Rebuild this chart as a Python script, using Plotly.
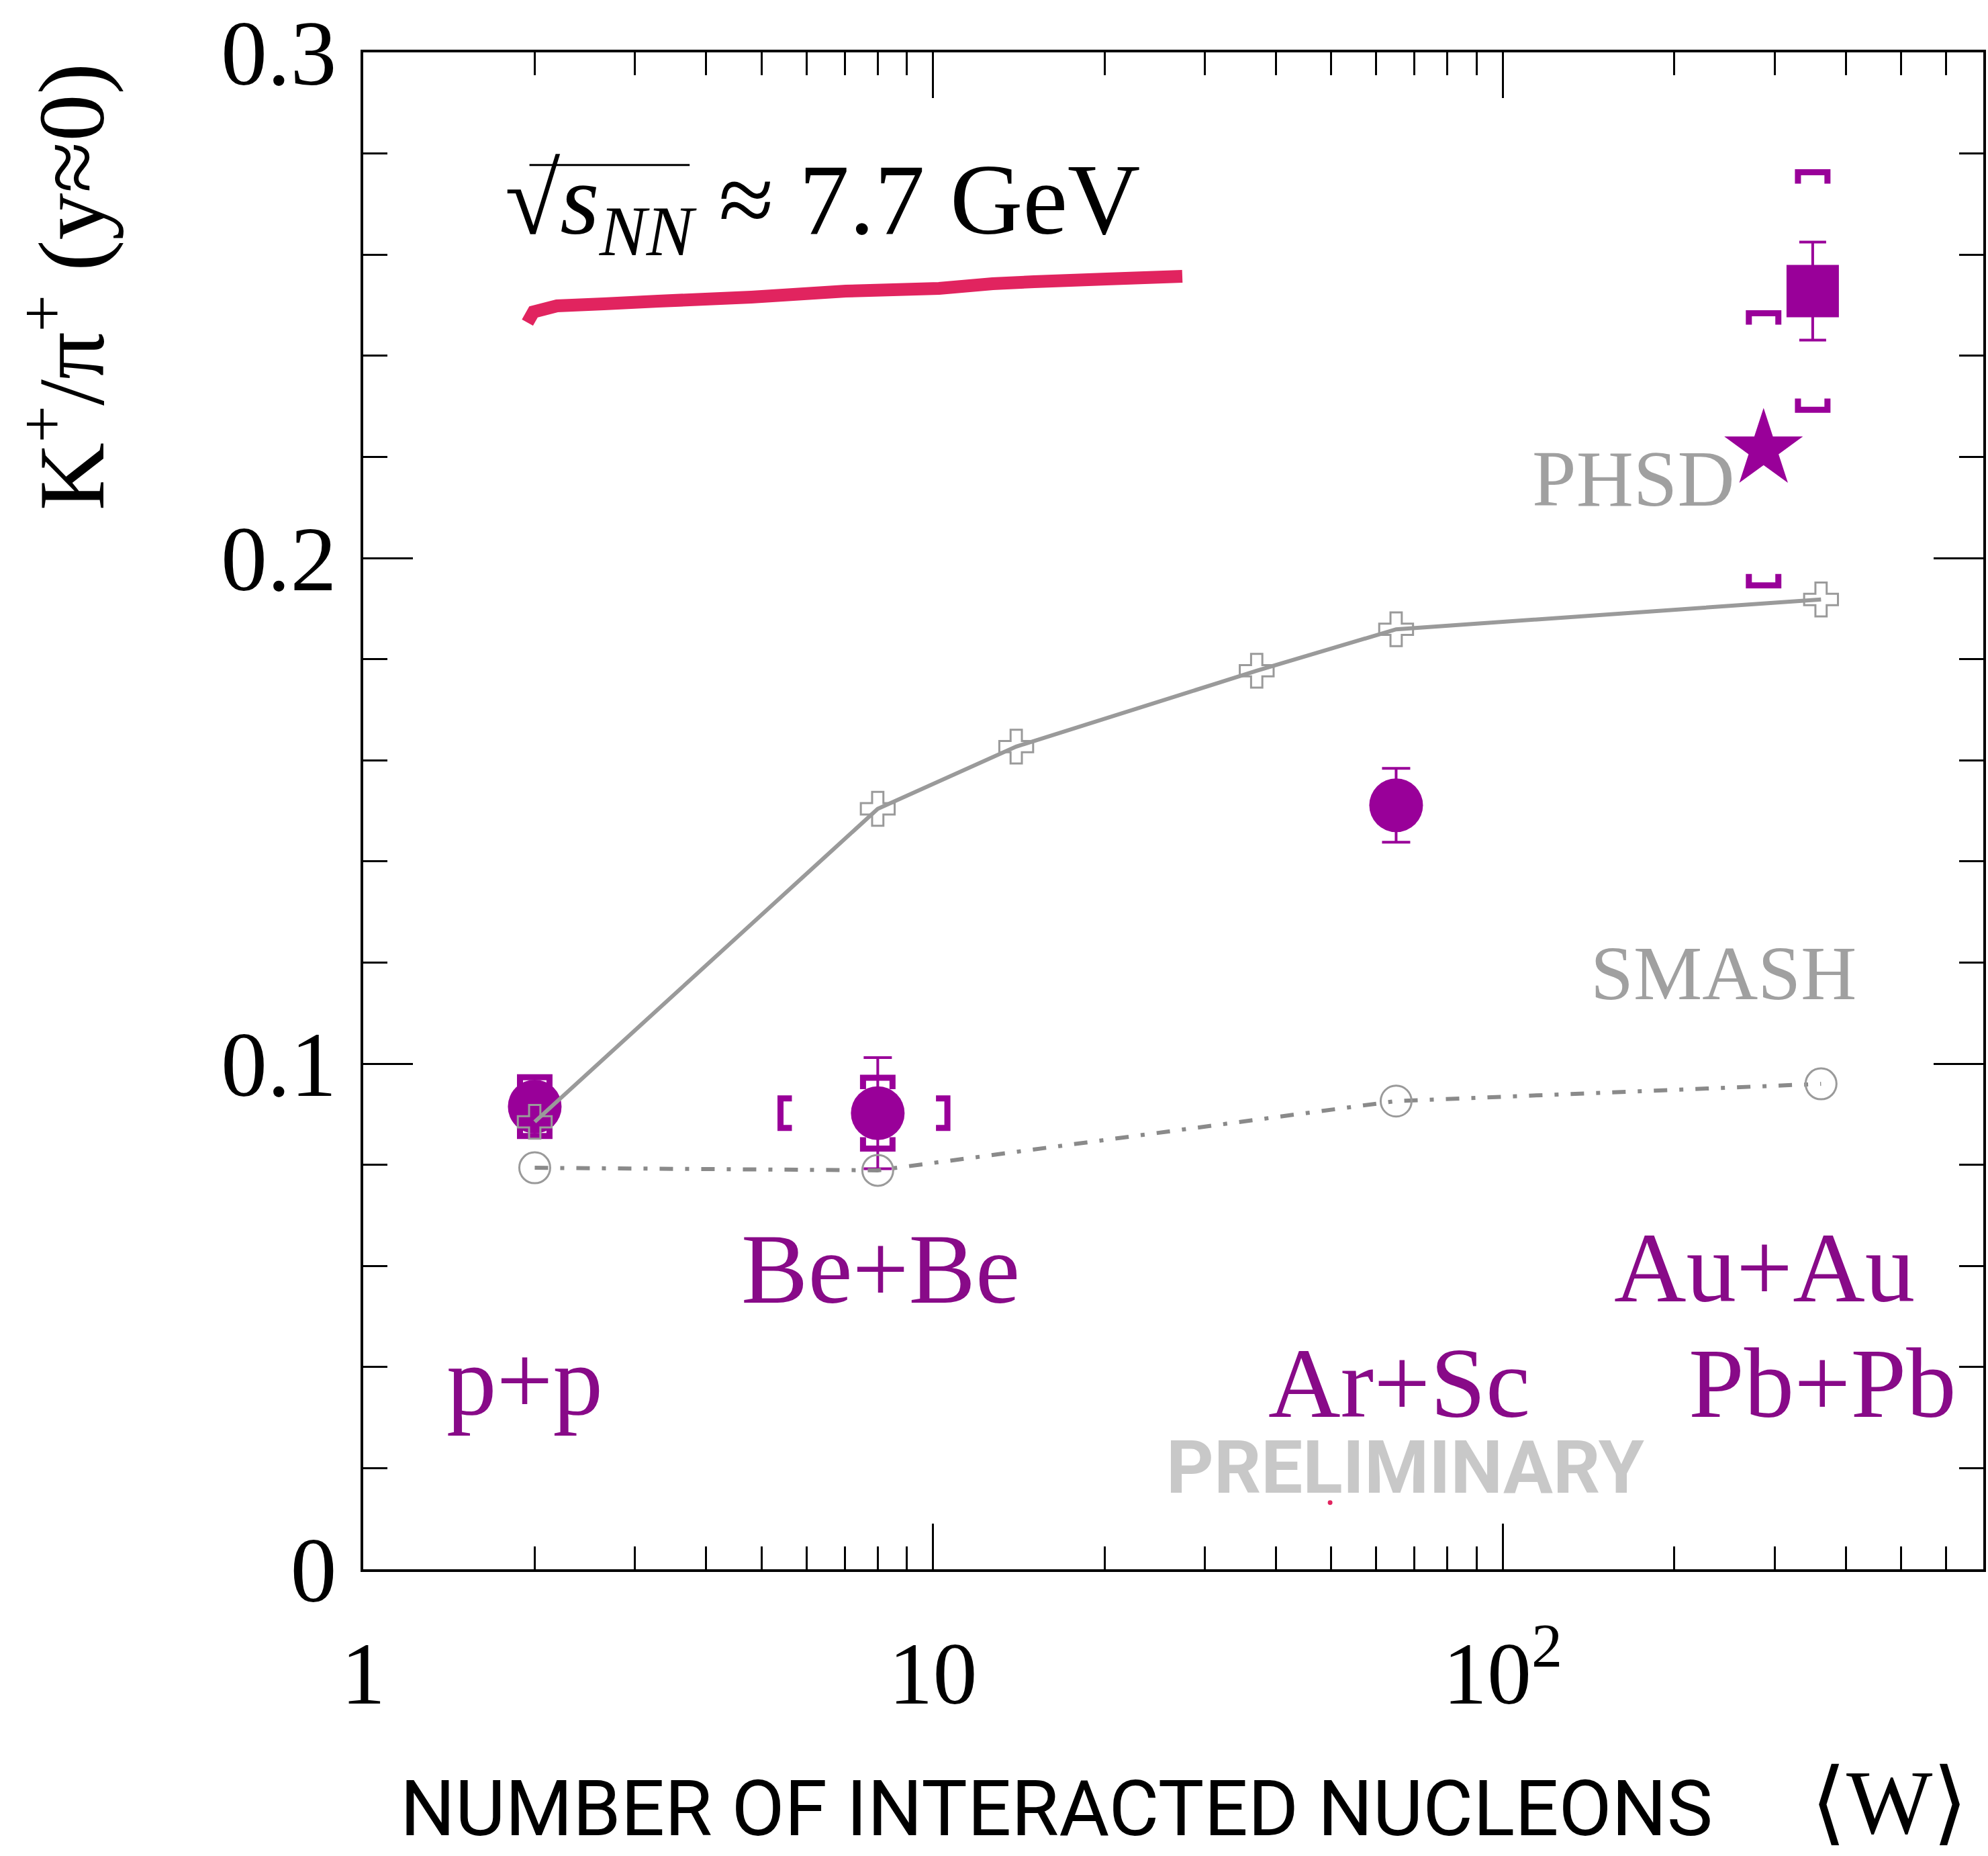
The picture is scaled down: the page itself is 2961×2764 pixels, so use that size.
import plotly.graph_objects as go

# ---------------- data ----------------
na61_systems = ["p+p", "Be+Be", "Ar+Sc"]
na61_w = [2, 8, 65]
na61_ratio = [0.0915, 0.0902, 0.1511]
na61_stat = [0.0015, 0.0110, 0.0073]
na61_sys = [0.0058, 0.0070, 0.0]
na61_w_sys = [0.0, 2.6, 0.0]

auau_w = [350]
auau_ratio = [0.2528]
auau_stat = [0.0097]
auau_sys = [0.0235]

pbpb_w = [287]
pbpb_ratio = [0.2215]
pbpb_sys = [0.0269]

phsd_w = [2, 8, 14, 37, 65, 362]
phsd_ratio = [0.0885, 0.1504, 0.1627, 0.1777, 0.1859, 0.1918]

smash_w = [2, 8, 65, 362]
smash_ratio = [0.0794, 0.0789, 0.0926, 0.0960]

x_tickvals = [1, 10, 100]
x_ticktext = ["1", "10", "10<sup>2</sup>"]
y_tickvals = [0, 0.1, 0.2, 0.3]
y_ticktext = ["0", "0.1", "0.2", "0.3"]

# ---------------- layout geometry ----------------
FW, FH = 2961, 2764
ML, MR, MT, MB = 541, 3, 75, 427
PW = FW - ML - MR
PH = FH - MT - MB
XRANGE = [0, 2.8435]
YRANGE = [0, 0.3]
PX_PER_DEC = PW / (XRANGE[1] - XRANGE[0])
PX_PER_Y = PH / (YRANGE[1] - YRANGE[0])


def px(x):
    return (x - ML) / PW


def py(y):
    return (FH - MB - y) / PH


PURPLE = "#990099"
TEXT_PURPLE = "#880a88"
GRAY = "#9a9a9a"
SERIF = "Liberation Serif"

fig = go.Figure()

# ------------- systematic brackets (built from data) -------------
half_w_px, leg_px = 22, 17
fx = 10 ** (half_w_px / PX_PER_DEC)
leg = leg_px / PX_PER_Y


def vbrackets(ws, ys, ss):
    bx, by = [], []
    for w, y, s in zip(ws, ys, ss):
        if s <= 0:
            continue
        top, bot = y + s, y - s
        bx += [w / fx, w / fx, w * fx, w * fx, None]
        by += [top - leg, top, top, top - leg, None]
        bx += [w / fx, w / fx, w * fx, w * fx, None]
        by += [bot + leg, bot, bot, bot + leg, None]
    return bx, by


def hbrackets(ws, ys, wss):
    bx, by = [], []
    hh = half_w_px / PX_PER_Y
    gx = 10 ** (leg_px / PX_PER_DEC)
    for w, y, ws_ in zip(ws, ys, wss):
        if ws_ <= 0:
            continue
        xl, xr = w - ws_, w + ws_
        bx += [xl * gx, xl, xl, xl * gx, None]
        by += [y + hh, y + hh, y - hh, y - hh, None]
        bx += [xr / gx, xr, xr, xr / gx, None]
        by += [y + hh, y + hh, y - hh, y - hh, None]
    return bx, by


for fn, args in [
    (vbrackets, (na61_w, na61_ratio, na61_sys)),
    (vbrackets, (auau_w, auau_ratio, auau_sys)),
    (vbrackets, (pbpb_w, pbpb_ratio, pbpb_sys)),
    (hbrackets, (na61_w, na61_ratio, na61_w_sys)),
]:
    bx, by = fn(*args)
    fig.add_trace(go.Scatter(x=bx, y=by, mode="lines",
                             line=dict(color=PURPLE, width=9),
                             hoverinfo="skip", showlegend=False))

# ------------- data points -------------
fig.add_trace(go.Scatter(
    x=na61_w, y=na61_ratio, mode="markers", name="NA61/SHINE",
    marker=dict(symbol="circle", size=80, color=PURPLE, line=dict(width=0)),
    error_y=dict(type="data", array=na61_stat, color=PURPLE, thickness=4, width=21),
    showlegend=False))

fig.add_trace(go.Scatter(
    x=auau_w, y=auau_ratio, mode="markers", name="Au+Au",
    marker=dict(symbol="square", size=78, color=PURPLE, line=dict(width=0)),
    error_y=dict(type="data", array=auau_stat, color=PURPLE, thickness=4, width=20),
    showlegend=False))

fig.add_trace(go.Scatter(
    x=pbpb_w, y=pbpb_ratio, mode="markers", name="Pb+Pb",
    marker=dict(symbol="star", size=88, color=PURPLE, line=dict(width=0)),
    showlegend=False))

# ------------- models -------------
fig.add_trace(go.Scatter(
    x=smash_w, y=smash_ratio, mode="lines+markers", name="SMASH",
    line=dict(color="#8a8a8a", width=6, dash="20px,18px,6px,18px"),
    marker=dict(symbol="circle-open", size=46, color=GRAY, line=dict(width=3, color=GRAY)),
    showlegend=False))

fig.add_trace(go.Scatter(
    x=phsd_w, y=phsd_ratio, mode="lines+markers", name="PHSD",
    line=dict(color=GRAY, width=6),
    marker=dict(symbol="cross-open", size=42, color=GRAY, line=dict(width=3, color=GRAY)),
    showlegend=False))

# ------------- axes -------------
minor_x = [v * m for m in (1, 10, 100) for v in range(2, 10) if v * m <= 700]
fig.update_xaxes(
    type="log", range=XRANGE, showline=True, linewidth=4, linecolor="black",
    mirror="ticks", ticks="inside", ticklen=68, tickwidth=3, tickcolor="black",
    tickvals=x_tickvals, ticktext=x_ticktext, showgrid=False, zeroline=False,
    tickfont=dict(family=SERIF, size=132, color="black"), ticklabelstandoff=38,
    minor=dict(ticks="inside", ticklen=34, tickwidth=3, tickcolor="black",
               tickvals=minor_x, showgrid=False))

minor_y = [round(0.02 * i, 2) for i in range(1, 15)]
fig.update_yaxes(
    range=YRANGE, showline=True, linewidth=4, linecolor="black",
    mirror="ticks", ticks="inside", ticklen=74, tickwidth=3, tickcolor="black",
    tickvals=y_tickvals, ticktext=y_ticktext, showgrid=False, zeroline=False,
    tickfont=dict(family=SERIF, size=138, color="black"), ticklabelstandoff=8,
    minor=dict(ticks="inside", ticklen=36, tickwidth=3, tickcolor="black",
               tickvals=minor_y, showgrid=False))

# ------------- annotations -------------
ann = []


def add_text(text, x, y, size, color, family=SERIF, xanchor="center", angle=0, weight=None):
    f = dict(family=family, size=size, color=color)
    if weight:
        f["weight"] = weight
    ann.append(dict(text=text, x=px(x), y=py(y), xref="paper", yref="paper",
                    xanchor=xanchor, yanchor="middle", showarrow=False,
                    textangle=angle, font=f))


add_text("√<i>s</i><sub><i>NN</i></sub> ≈ 7.7 GeV", 750, 306, 150, "black", xanchor="left")
add_text("K<sup>+</sup>/π<sup>+</sup> (y≈0)", 95, 425, 140, "black", angle=-90)
add_text("NUMBER OF INTERACTED NUCLEONS", 1575, 2694, 115, "black", family="Roboto")
add_text("⟨W⟩", 2818, 2684, 136, "black")
add_text("PHSD", 2436, 711, 118, "#a0a0a0")
add_text("SMASH", 2570, 1448, 115, "#a0a0a0")
add_text("p+p", 782, 2055, 149, TEXT_PURPLE)
add_text("Be+Be", 1313, 1889, 149, TEXT_PURPLE)
add_text("Ar+Sc", 2087, 2059, 149, TEXT_PURPLE)
add_text("Au+Au", 2631, 1887, 149, TEXT_PURPLE)
add_text("Pb+Pb", 2718, 2059, 149, TEXT_PURPLE)
add_text("PRELIMINARY", 2096, 2185, 110, "#c8c8c8", family="Roboto", weight="bold")

# ------------- decorations -------------
shapes = []
# overline of the square root
shapes.append(dict(type="line", xref="paper", yref="paper",
                   x0=px(789), x1=px(1028), y0=py(243), y1=py(243),
                   line=dict(color="black", width=3)))
# hand drawn pink underline
pts = [(786, 478), (795, 462), (830, 453), (900, 450), (981, 446), (1120, 440),
       (1261, 431), (1400, 427), (1480, 420), (1542, 417), (1650, 413), (1763, 409)]
path = "M " + " L ".join(f"{px(a):.5f},{py(b):.5f}" for a, b in pts)
shapes.append(dict(type="path", xref="paper", yref="paper", path=path,
                   line=dict(color="#e1245f", width=19)))
# tiny pink dot
shapes.append(dict(type="circle", xref="paper", yref="paper",
                   x0=px(1980), x1=px(1987), y0=py(2234), y1=py(2241),
                   fillcolor="#e1245f", line=dict(width=0)))

fig.update_layout(
    width=FW, height=FH, autosize=False,
    margin=dict(l=ML, r=MR, t=MT, b=MB, pad=0),
    paper_bgcolor="white", plot_bgcolor="white",
    showlegend=False, annotations=ann, shapes=shapes,
)

fig.write_html("out.html", config={"displayModeBar": False},
               post_script="document.body.style.margin='0';document.body.style.overflow='hidden';")
